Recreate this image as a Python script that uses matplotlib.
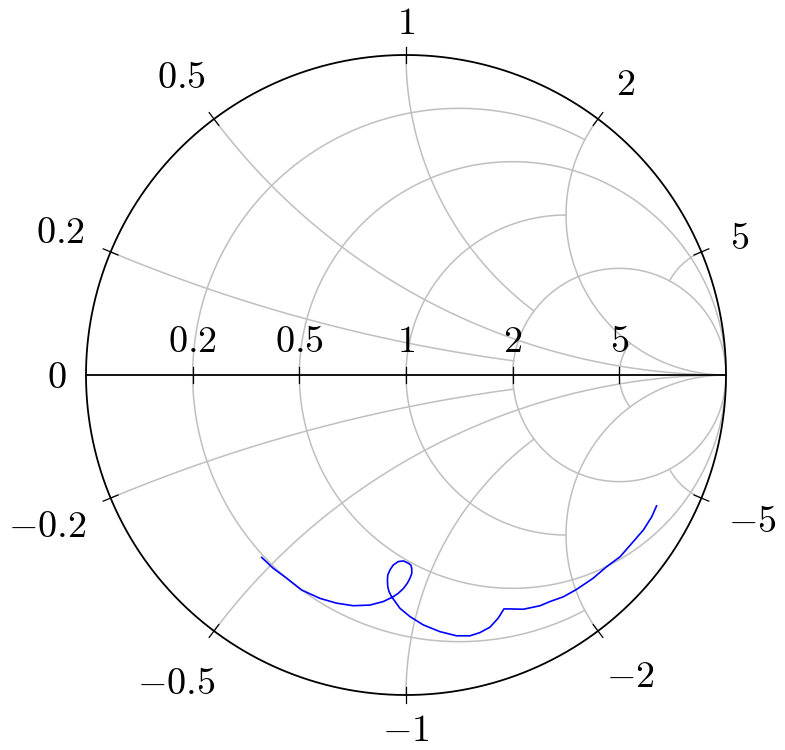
import numpy as np
import matplotlib.pyplot as plt

plt.rcParams['mathtext.fontset'] = 'cm'

# grid values (normalised impedance)
r_values = [0.2, 0.5, 1, 2, 5]
x_values = [0.2, 0.5, 1, 2, 5]
# minor grid lines end on the |x| = 2 arcs / the r = 2 circle
r_grid_stop = [2, None, 2, None, 2]
x_grid_stop = [2, None, 2, None, 2]

# measured reflection coefficient (real / imaginary part)
s11_re = [-0.451, -0.415, -0.373, -0.326, -0.269, -0.217, -0.165, -0.113, -0.071,
          -0.040, -0.024, -0.008, 0.004, 0.0125, 0.018, 0.018, 0.015, 0.007,
          -0.008, -0.024, -0.040, -0.050, -0.057, -0.058, -0.057, -0.053, -0.045,
          -0.034, -0.019, 0.0125, 0.054, 0.106, 0.158, 0.200, 0.231,
          0.2625, 0.288, 0.306, 0.325, 0.367, 0.419, 0.450, 0.492, 0.533, 0.585,
          0.627, 0.669, 0.710, 0.742, 0.768, 0.783]
s11_im = [-0.570, -0.604, -0.635, -0.672, -0.698, -0.713, -0.721, -0.719, -0.708,
          -0.693, -0.682, -0.667, -0.651, -0.635, -0.620, -0.604, -0.594, -0.588,
          -0.581, -0.583, -0.594, -0.609, -0.625, -0.641, -0.662, -0.677, -0.693,
          -0.708, -0.729, -0.755, -0.781, -0.802, -0.815, -0.815, -0.805,
          -0.788, -0.760, -0.731, -0.731, -0.732, -0.721, -0.708, -0.693, -0.670,
          -0.635, -0.599, -0.568, -0.521, -0.484, -0.443, -0.409]

GRID = '#bfbfbf'
PX = 320.0          # pixels per unit of Gamma
FS = 27.5


def smith(z):
    return (z - 1) / (z + 1)


def resistance_circle(r, x_max):
    c, rho = r / (1 + r), 1 / (1 + r)
    phi0 = 0.0 if x_max is None else np.angle(smith(r + 1j * x_max) - c)
    phi = np.linspace(phi0, 2 * np.pi - phi0, 500)
    return c + rho * np.exp(1j * phi)


def reactance_arc(x, r_max):
    c, rho = 1 + 1j / x, 1 / x
    a0 = np.angle(smith(1j * x) - c) % (2 * np.pi)
    if r_max is None:
        a1 = 1.5 * np.pi
    else:
        a1 = np.angle(smith(r_max + 1j * x) - c) % (2 * np.pi)
    a = np.linspace(a0, a1, 400)
    return c + rho * np.exp(1j * a)


fig = plt.figure(figsize=(7.85, 7.5), dpi=100)
ax = fig.add_axes([0, 0, 1, 1])
ax.set_xlim(-406 / PX, 379 / PX)
ax.set_ylim(-375 / PX, 375 / PX)
ax.axis('off')

# grid
for r, stop in zip(r_values, r_grid_stop):
    g = resistance_circle(r, stop)
    ax.plot(g.real, g.imag, color=GRID, lw=1.1, zorder=1)
for x, stop in zip(x_values, x_grid_stop):
    g = reactance_arc(x, stop)
    ax.plot(g.real, g.imag, color=GRID, lw=1.1, zorder=1)
    ax.plot(g.real, -g.imag, color=GRID, lw=1.1, zorder=1)

# axis lines
outer = resistance_circle(0, None)
ax.plot(outer.real, outer.imag, color='black', lw=1.3, zorder=2)
ax.plot([-1, 1], [0, 0], color='black', lw=1.3, zorder=2)

tick = 8 / PX
for r in r_values:
    g = smith(r)
    ax.plot([g, g], [-tick, tick], color='black', lw=0.9, zorder=2)
all_x = [-v for v in x_values[::-1]] + x_values
for x in all_x:
    g = smith(1j * x)
    ax.plot([g.real * (1 - tick), g.real * (1 + tick)],
            [g.imag * (1 - tick), g.imag * (1 + tick)],
            color='black', lw=0.9, zorder=2)

# data
ax.plot(s11_re, s11_im, color='blue', lw=1.2, zorder=3)

# labels on the real axis
for r in r_values:
    ax.text(smith(r), 23 / PX, f'${r:g}$', fontsize=FS, ha='center',
            va='baseline', zorder=4)

# labels around the circle
fig.canvas.draw()
renderer = fig.canvas.get_renderer()
for x in [0] + all_x:
    g = smith(1j * x)
    th = np.angle(g)
    c, s = np.cos(th), np.sin(th)
    t = ax.text(0, 0, f'${x:g}$', fontsize=FS, ha='center', va='baseline',
                zorder=4)
    w = t.get_window_extent(renderer).width - 4
    h = 25.0
    gap = 21 + 10 * np.sqrt(abs(np.sin(2 * th)))
    k = (gap + w / 2 * abs(c) + h / 2 * abs(s)) / PX
    t.set_position((g.real + k * c, g.imag + k * s - h / 2 / PX))

fig.savefig('out.png', dpi=100)
